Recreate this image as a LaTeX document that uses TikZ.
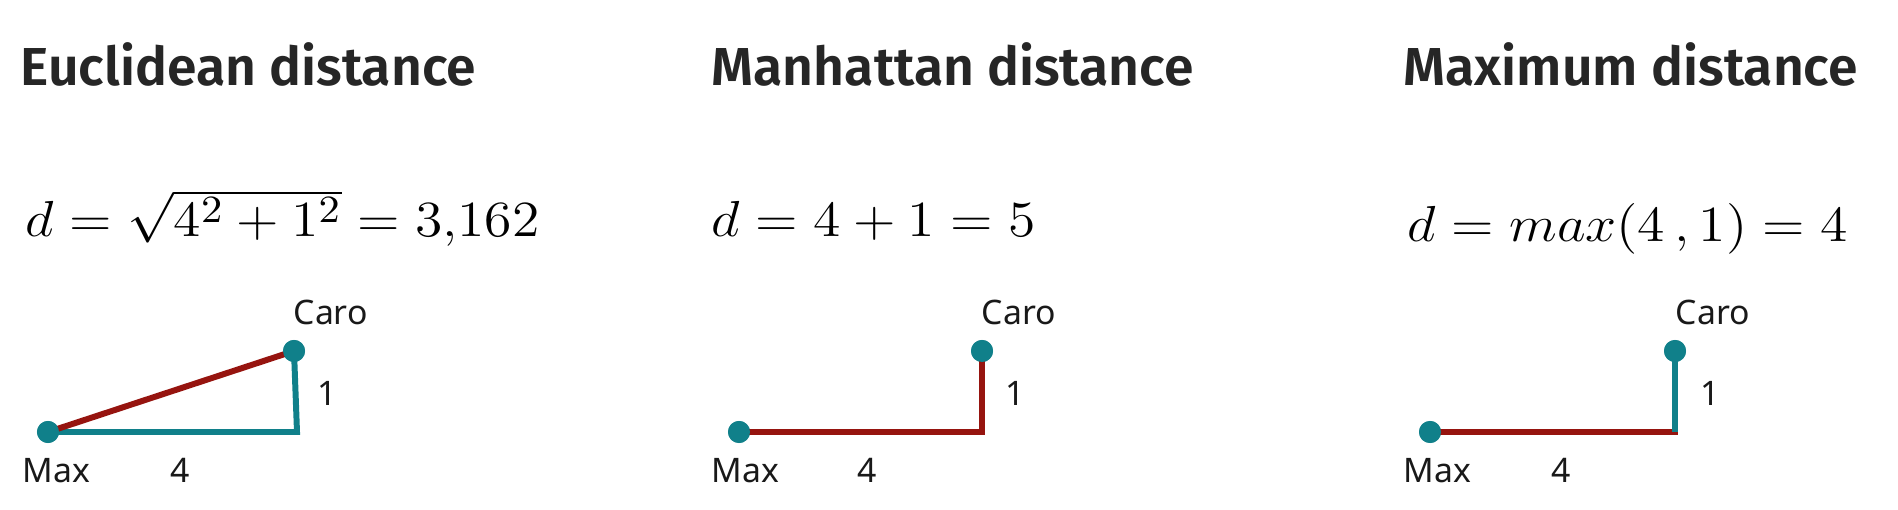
\documentclass[tikz,border=0pt]{standalone}
\usepackage{fontspec}
\setmainfont{Liberation Serif}
\newfontfamily\titlefont{Fira Sans SemiBold}
\newfontfamily\labelfont{Noto Sans}
\definecolor{tealc}{RGB}{16,128,138}
\definecolor{redc}{RGB}{150,20,15}
\definecolor{inkc}{RGB}{38,38,38}
\newcommand{\widemath}[1]{\scalebox{1.1}[1]{$#1$}}
\begin{document}
\begin{tikzpicture}[x=0.01cm,y=-0.01cm,
  title/.style={anchor=base west,inner sep=0,text=inkc,font=\titlefont\fontsize{15.2}{18}\selectfont},
  formula/.style={anchor=base west,inner sep=0,text=black,font=\fontsize{15.2}{18}\selectfont},
  lbl/.style={anchor=base west,inner sep=0,text=black!90,font=\labelfont\fontsize{9.6}{12}\selectfont},
  dot/.style={circle,fill=tealc,inner sep=0,minimum size=0.22cm},
  tealline/.style={draw=tealc,line width=1.7pt,line join=miter},
  redline/.style={draw=redc,line width=1.7pt,line join=miter}]
\useasboundingbox[fill=white] (0,0) rectangle (1898,510);
% titles
\node[title] (t1) at (20,86) {Euclidean distance};
\node[title] (t2) at (711,86) {Manhattan distance};
\node[title] (t3) at (1403,86) {Maximum distance};
% formulas
\node[formula] (f1) at (25,237) {\widemath{d=\sqrt{4^2+1^2}=3{,}162}};
\node[formula] (f2) at (711,237) {\widemath{d=4+1=5}};
\node[formula] (f3) at (1407,242) {\widemath{d=max(4\,,1)=4}};
% panel 1
\coordinate (k1) at (297,432);
\node[dot] (max1) at (48,432) {};
\node[dot] (caro1) at (294,351) {};
\draw[tealline] (max1.center) -- (k1) -- (caro1.center);
\draw[redline] (max1.center) -- (caro1.center);
\node[dot] at (max1) {};
\node[dot] at (caro1) {};
\node[lbl] (lc1) at (293,325) {Caro};
\node[lbl] (l11) at (317,406) {1};
\node[lbl] (lm1) at (22,482) {Max};
\node[lbl] (l41) at (170,482) {4};
% panel 2
\coordinate (k2) at (982,432);
\node[dot] (max2) at (739,432) {};
\node[dot] (caro2) at (982,351) {};
\draw[redline] (max2.center) -- (k2) -- (caro2.center);
\node[dot] at (max2) {};
\node[dot] at (caro2) {};
\node[lbl] (lc2) at (981,325) {Caro};
\node[lbl] (l12) at (1005,406) {1};
\node[lbl] (lm2) at (711,482) {Max};
\node[lbl] (l42) at (857,482) {4};
% panel 3
\coordinate (k3) at (1675,432);
\node[dot] (max3) at (1430,432) {};
\node[dot] (caro3) at (1675,351) {};
\draw[redline] (max3.center) -- ([xshift=0.85pt]k3);
\draw[tealline] (k3) -- (caro3.center);
\node[dot] at (max3) {};
\node[dot] at (caro3) {};
\node[lbl] (lc3) at (1675,325) {Caro};
\node[lbl] (l13) at (1700,406) {1};
\node[lbl] (lm3) at (1403,482) {Max};
\node[lbl] (l43) at (1551,482) {4};
\end{tikzpicture}
\end{document}
